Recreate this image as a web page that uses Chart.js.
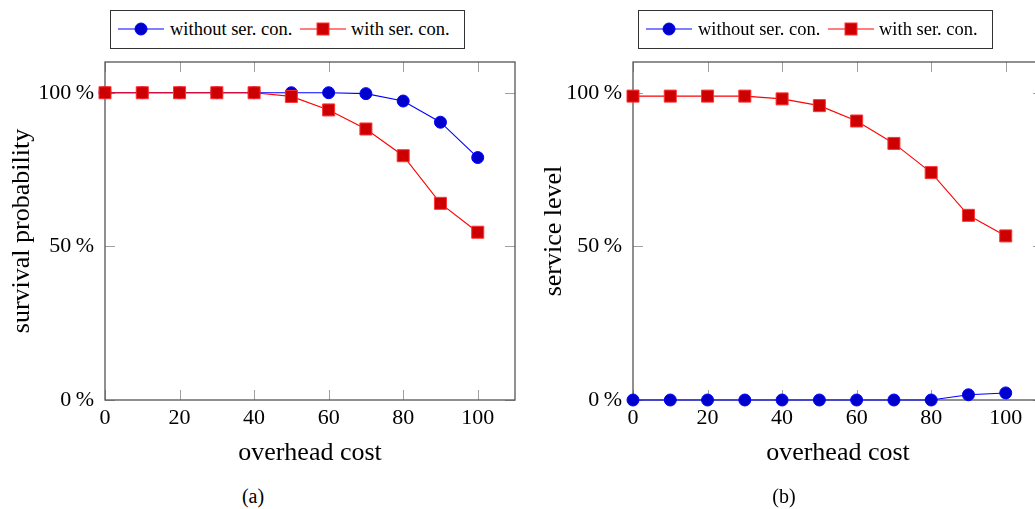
<!DOCTYPE html>
<html>
<head>
<meta charset="utf-8">
<script src="https://cdn.jsdelivr.net/npm/chart.js@4.4.1/dist/chart.umd.min.js"></script>
<style>
  html, body { margin:0; padding:0; background:#fff; }
  body { width:1035px; height:509px; overflow:hidden; position:relative; font-family:"Liberation Serif", "Times New Roman", serif; }
  .wrap { position:absolute; top:0; width:530px; height:470px; }
  .legend { position:absolute; top:10px; width:355px; height:39px; border:1px solid #333; box-sizing:border-box; background:#fff; }
  .legend .sym { position:absolute; top:8px; }
  .legend .txt { position:absolute; top:0; line-height:37px; font-size:18.5px; color:#000; white-space:nowrap; }
  .cap { position:absolute; top:486px; height:20px; line-height:20px; font-size:20px; text-align:center; color:#000; }
</style>
</head>
<body>
<div class="wrap" style="left:0"><canvas id="ca" width="530" height="470"></canvas></div>
<div class="wrap" style="left:528px"><canvas id="cb" width="530" height="470"></canvas></div>

<div class="legend" style="left:110px">
  <svg class="sym" style="left:7px" width="46" height="20"><line x1="0" y1="10" x2="46" y2="10" stroke="#0000ff" stroke-width="1.2"/><circle cx="23" cy="10" r="6" fill="#0000cc" stroke="#0000ff" stroke-width="1"/></svg>
  <span class="txt" style="left:59px">without ser. con.</span>
  <svg class="sym" style="left:189px" width="46" height="20"><line x1="0" y1="10" x2="46" y2="10" stroke="#ff0000" stroke-width="1.2"/><rect x="17" y="4" width="12" height="12" fill="#cc0000" stroke="#ff3333" stroke-width="1"/></svg>
  <span class="txt" style="left:240px">with ser. con.</span>
</div>
<div class="legend" style="left:638px">
  <svg class="sym" style="left:7px" width="46" height="20"><line x1="0" y1="10" x2="46" y2="10" stroke="#0000ff" stroke-width="1.2"/><circle cx="23" cy="10" r="6" fill="#0000cc" stroke="#0000ff" stroke-width="1"/></svg>
  <span class="txt" style="left:59px">without ser. con.</span>
  <svg class="sym" style="left:189px" width="46" height="20"><line x1="0" y1="10" x2="46" y2="10" stroke="#ff0000" stroke-width="1.2"/><rect x="17" y="4" width="12" height="12" fill="#cc0000" stroke="#ff3333" stroke-width="1"/></svg>
  <span class="txt" style="left:240px">with ser. con.</span>
</div>

<div class="cap" style="left:0; width:506px">(a)</div>
<div class="cap" style="left:528px; width:512px">(b)</div>

<script>
// ---- data ----
const costs = [0, 10, 20, 30, 40, 50, 60, 70, 80, 90, 100];
const survivalWithout = [100, 100, 100, 100, 100, 100, 100, 99.7, 97.3, 90.4, 78.9];
const survivalWith    = [100, 100, 100, 100, 100, 98.8, 94.4, 88.2, 79.5, 64.0, 54.6];
const serviceWithout  = [0, 0, 0, 0, 0, 0, 0, 0, 0, 1.7, 2.3];
const serviceWith     = [98.9, 98.9, 98.9, 98.9, 98.0, 95.8, 90.8, 83.5, 74.0, 60.1, 53.4];
const xTickValues = [0, 20, 40, 60, 80, 100];
const yTickValues = [0, 50, 100];
const seriesNames = ['without ser. con.', 'with ser. con.'];
const xTitle = 'overhead cost';
const yTitles = ['survival probability', 'service level'];

const FONT = '"Liberation Serif", "Times New Roman", serif';

const frameTicks = {
  id: 'frameTicks',
  beforeDatasetsDraw(chart) {
    const {ctx, chartArea: a, scales} = chart;
    ctx.save();
    ctx.strokeStyle = '#a0a0a0';
    ctx.lineWidth = 1;
    const L = 10;
    scales.x.ticks.forEach(t => {
      const px = Math.round(scales.x.getPixelForValue(t.value)) + 0.5;
      ctx.beginPath();
      ctx.moveTo(px, a.bottom); ctx.lineTo(px, a.bottom - L);
      ctx.moveTo(px, a.top); ctx.lineTo(px, a.top + L);
      ctx.stroke();
    });
    scales.y.ticks.forEach(t => {
      const py = Math.round(scales.y.getPixelForValue(t.value)) + 0.5;
      ctx.beginPath();
      ctx.moveTo(a.left, py); ctx.lineTo(a.left + L, py);
      ctx.moveTo(a.right, py); ctx.lineTo(a.right - L, py);
      ctx.stroke();
    });
    ctx.strokeStyle = '#555';
    ctx.lineWidth = 1.3;
    ctx.strokeRect(a.left, a.top, a.right - a.left, a.bottom - a.top);
    ctx.restore();
  }
};

function pts(vals) { return costs.map((c, i) => ({x: c, y: vals[i]})); }

function makeChart(id, withoutVals, withVals, yTitle, yTitlePad) {
  return new Chart(document.getElementById(id), {
    type: 'line',
    data: {
      datasets: [
        {
          label: seriesNames[0], data: pts(withoutVals), order: 1,
          borderColor: '#0000ff', borderWidth: 1.1, tension: 0,
          pointStyle: 'circle', pointRadius: 6, pointHoverRadius: 6,
          pointBackgroundColor: '#0000cc', pointBorderColor: '#0000ff', pointBorderWidth: 1,
          clip: false
        },
        {
          label: seriesNames[1], data: pts(withVals), order: 0,
          borderColor: '#ff0000', borderWidth: 1.1, tension: 0,
          pointStyle: 'rect', pointRadius: 8.5, pointHoverRadius: 8.5,
          pointBackgroundColor: '#cc0000', pointBorderColor: '#ff3333', pointBorderWidth: 1,
          clip: false
        }
      ]
    },
    options: {
      responsive: false,
      animation: false,
      events: [],
      layout: { padding: { top: 62, right: 15, left: 0, bottom: 0 } },
      plugins: { legend: { display: false }, title: { display: false }, tooltip: { enabled: false } },
      scales: {
        x: {
          type: 'linear', min: 0, max: 110,
          afterBuildTicks: s => { s.ticks = xTickValues.map(v => ({value: v})); },
          afterFit: s => { s.height = 70; },
          grid: { display: false, drawTicks: false },
          border: { display: false },
          ticks: { font: { family: FONT, size: 22 }, color: '#000', padding: 5, maxRotation: 0 },
          title: { display: true, text: xTitle, font: { family: FONT, size: 26 }, color: '#000', padding: { top: 0, bottom: 1.5 } }
        },
        y: {
          type: 'linear', min: 0, max: 110,
          afterBuildTicks: s => { s.ticks = yTickValues.map(v => ({value: v})); },
          afterFit: s => { s.width = 105; },
          grid: { display: false, drawTicks: false },
          border: { display: false },
          ticks: { font: { family: FONT, size: 22 }, color: '#000', padding: 11, callback: v => v + '\u2009%' },
          title: { display: true, text: yTitle, font: { family: FONT, size: 26 }, color: '#000', padding: { top: yTitlePad, bottom: 0 } }
        }
      }
    },
    plugins: [frameTicks]
  });
}

makeChart('ca', survivalWithout, survivalWith, yTitles[0], 7);
makeChart('cb', serviceWithout, serviceWith, yTitles[1], 10.5);
</script>
</body>
</html>
